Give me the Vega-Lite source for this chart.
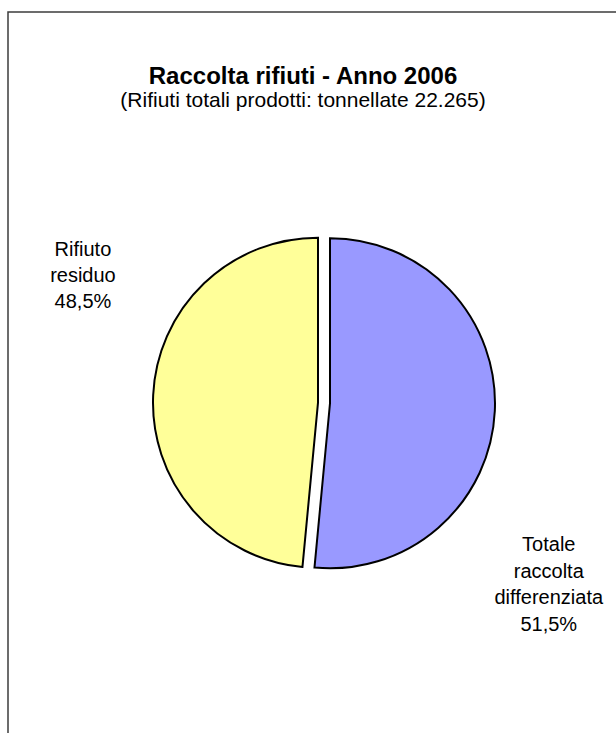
{
  "$schema": "https://vega.github.io/schema/vega-lite/v6.json",
  "autosize": "none",
  "padding": {"left": 8, "top": 12, "right": 0, "bottom": 0},
  "width": 632,
  "height": 782,
  "background": "white",
  "view": {"stroke": "#3c3c3c", "strokeWidth": 1.5, "fill": "white"},
  "config": {
    "font": "Liberation Sans"
  },
  "title": {
    "text": "Raccolta rifiuti - Anno 2006",
    "subtitle": "(Rifiuti totali prodotti: tonnellate 22.265)",
    "font": "Liberation Sans",
    "fontSize": 24,
    "fontWeight": "bold",
    "color": "black",
    "subtitleFont": "Liberation Sans",
    "subtitleFontSize": 21,
    "subtitleColor": "black",
    "subtitlePadding": 1,
    "anchor": "middle",
    "frame": "group",
    "offset": -99,
    "dx": -21
  },
  "data": {
    "values": [
      {"categoria": "Totale raccolta differenziata", "valore": 51.5, "etichetta": "Totale\nraccolta\ndifferenziata\n51,5%"},
      {"categoria": "Rifiuto residuo", "valore": 48.5, "etichetta": "Rifiuto\nresiduo\n48,5%"}
    ]
  },
  "transform": [
    {"stack": "valore", "groupby": [], "as": ["inizio", "fine"], "sort": [{"field": "valore", "order": "descending"}]}
  ],
  "layer": [
    {
      "transform": [{"filter": "datum.categoria === 'Totale raccolta differenziata'"}],
      "mark": {"type": "arc", "outerRadius": 165, "fill": "#9999FF", "stroke": "black", "strokeWidth": 2, "xOffset": 6, "yOffset": 0.3},
      "encoding": {
        "theta": {"field": "inizio", "type": "quantitative", "scale": {"domain": [0, 100]}},
        "theta2": {"field": "fine"}
      }
    },
    {
      "transform": [{"filter": "datum.categoria === 'Rifiuto residuo'"}],
      "mark": {"type": "arc", "outerRadius": 165, "fill": "#FFFF99", "stroke": "black", "strokeWidth": 2, "xOffset": -6, "yOffset": -0.3},
      "encoding": {
        "theta": {"field": "inizio", "type": "quantitative", "scale": {"domain": [0, 100]}},
        "theta2": {"field": "fine"}
      }
    },
    {
      "transform": [{"filter": "datum.categoria === 'Totale raccolta differenziata'"}],
      "mark": {"type": "text", "radius": 266, "thetaOffset": 2.135, "fontSize": 20, "lineHeight": 26.5, "lineBreak": "\n", "color": "black", "align": "center", "baseline": "middle"},
      "encoding": {
        "theta": {"field": "inizio", "type": "quantitative", "scale": {"domain": [0, 100]}},
        "text": {"field": "etichetta"}
      }
    },
    {
      "transform": [{"filter": "datum.categoria === 'Rifiuto residuo'"}],
      "mark": {"type": "text", "radius": 285.5, "thetaOffset": 2.042, "fontSize": 20, "lineHeight": 26, "lineBreak": "\n", "color": "black", "align": "center", "baseline": "middle"},
      "encoding": {
        "theta": {"field": "inizio", "type": "quantitative", "scale": {"domain": [0, 100]}},
        "text": {"field": "etichetta"}
      }
    }
  ]
}
